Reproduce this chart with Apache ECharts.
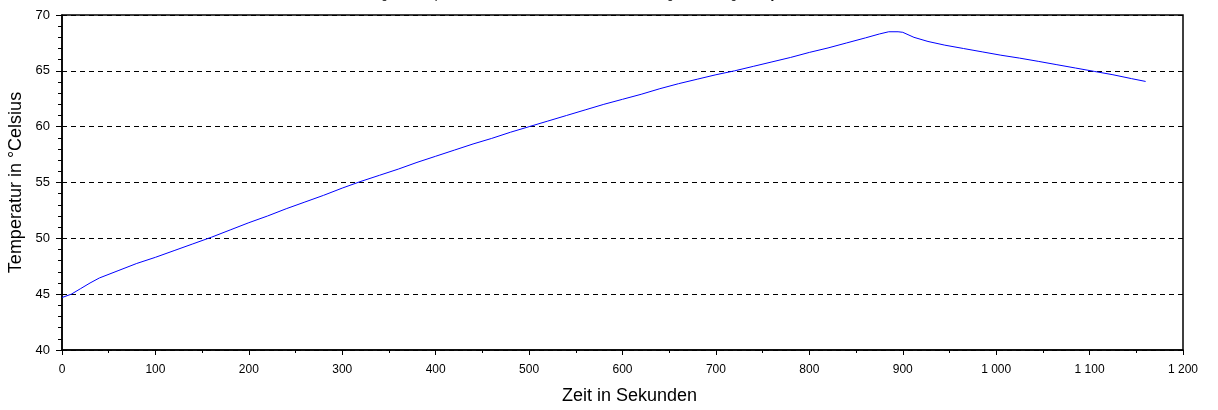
<!DOCTYPE html>
<html>
<head>
<meta charset="utf-8">
<script src="https://cdn.jsdelivr.net/npm/echarts@6/dist/echarts.min.js"></script>
<style>html,body{margin:0;padding:0;background:#fff;}#c{width:1218px;height:410px;}</style>
</head>
<body>
<div id="c"></div>
<script>
const titleText = "Anstieg der Temperatur von Wasser während der Erwärmung, Abkühlung des Systems";
const xName = "Zeit in Sekunden";
const yName = "Temperatur in °Celsius";
const timeSec = [0,10,20,30,40,60,80,100,120,140,160,180,200,220,240,260,280,300,320,340,360,380,400,420,440,460,480,500,520,540,560,580,600,620,640,660,680,700,720,740,760,780,800,820,840,860,875,885,895,900,912,927,945,965,985,1005,1025,1045,1065,1085,1105,1125,1145,1160];
const tempC = [44.7,45.0,45.5,46.0,46.45,47.1,47.75,48.3,48.9,49.5,50.1,50.75,51.4,52.0,52.65,53.25,53.85,54.5,55.1,55.65,56.2,56.8,57.35,57.9,58.45,58.95,59.5,60.0,60.5,61.0,61.5,62.0,62.45,62.9,63.4,63.85,64.25,64.65,65.0,65.4,65.8,66.2,66.65,67.05,67.5,67.95,68.3,68.5,68.5,68.45,68.0,67.63,67.3,67.0,66.7,66.4,66.14,65.85,65.55,65.25,64.95,64.65,64.3,64.05];
const xTicks = {min:0, max:1200, step:100};
const yTicks = {min:40, max:70, step:5};

const chart = echarts.init(document.getElementById('c'), null, {renderer:'canvas'});
const font = 'Liberation Sans, Arial, sans-serif';
chart.setOption({
  animation:false,
  backgroundColor:'#fff',
  title:{text:titleText, left:348, top:-11, padding:0,
    textStyle:{fontFamily:font, fontSize:12, fontWeight:'normal', color:'#000'}},
  grid:{left:62, right:35, top:15, bottom:60, outerBoundsMode:'none', containLabel:false,
    show:true, borderColor:'#000', borderWidth:1.5, backgroundColor:'transparent'},
  xAxis:{type:'value', min:xTicks.min, max:xTicks.max, interval:xTicks.step,
    name:xName, nameLocation:'middle', nameGap:37,
    nameTextStyle:{fontFamily:font, fontSize:18, color:'#000', padding:[0,0,0,14]},
    axisLine:{lineStyle:{color:'#000', width:1.5}},
    axisTick:{inside:false, length:5, lineStyle:{color:'#000'}},
    minorTick:{show:true, splitNumber:2, length:3, lineStyle:{color:'#000'}},
    splitLine:{show:false},
    axisLabel:{fontFamily:font, fontSize:12, color:'#000', margin:14,
      formatter:v=>String(v).replace(/\B(?=(\d{3})+(?!\d))/g,' ')}},
  yAxis:{type:'value', min:yTicks.min, max:yTicks.max, interval:yTicks.step,
    name:yName, nameLocation:'middle', nameGap:35, nameRotate:90,
    nameTextStyle:{fontFamily:font, fontSize:18, color:'#000'},
    axisLine:{show:true, lineStyle:{color:'#000', width:1.5}},
    axisTick:{show:true, inside:false, length:6, lineStyle:{color:'#000'}},
    minorTick:{show:true, splitNumber:5, length:4, lineStyle:{color:'#000'}},
    splitLine:{show:true, lineStyle:{color:'#000', type:[5,4], width:1}},
    axisLabel:{fontFamily:font, fontSize:13, color:'#000', margin:12}},
  series:[{type:'line', data:timeSec.map((t,i)=>[t,tempC[i]]), showSymbol:false,
    lineStyle:{color:'#0000ff', width:1}, itemStyle:{color:'#0000ff'}}]
});
</script>
</body>
</html>
